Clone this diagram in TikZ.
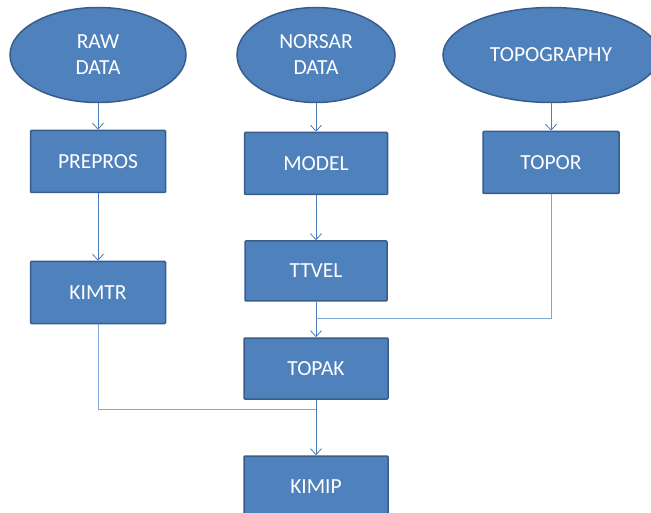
\documentclass[tikz,border=0pt]{standalone}
\usepackage{fontspec}
\setmainfont{Carlito}
\usetikzlibrary{arrows.meta,shapes.geometric}
\definecolor{boxfill}{HTML}{4F81BD}
\definecolor{boxline}{HTML}{385D8A}
\definecolor{linkline}{HTML}{4A7EBB}
\definecolor{joinline}{HTML}{7EA6D6}
\tikzset{
  base/.style={fill=boxfill, draw=boxline, line width=1.5pt, text=white,
    font=\fontsize{21.5}{26}\selectfont, align=center, inner sep=0pt},
  datasrc/.style={base, ellipse, minimum height=95pt},
  procbox/.style={base, rectangle, rounded corners=1pt, minimum height=62pt},
  link/.style={draw=linkline, line width=0.8pt, -{Straight Barb[length=6pt,width=11pt]}},
  joinlink/.style={draw=joinline, line width=1pt},
}
\begin{document}
\begin{tikzpicture}[x=1pt,y=-1pt]
  \useasboundingbox (0,0) rectangle (651,513);
  \fill[white] (0,0) rectangle (651,513);
  \clip (0,0) rectangle (651,513);

  % data sources
  \node[datasrc, minimum width=176pt] (raw) at (98,55) {RAW\\DATA};
  \node[datasrc, minimum width=158pt] (norsar) at (316,55) {NORSAR\\DATA};
  \node[datasrc, minimum width=216pt] (topo) at (551,55) {TOPOGRAPHY};

  % processing steps
  \node[procbox, minimum width=135pt] (prepros) at (98,161.5) {PREPROS};
  \node[procbox, minimum width=143pt] (model) at (316,163.5) {MODEL};
  \node[procbox, minimum width=136pt] (topor) at (551,162.5) {TOPOR};
  \node[procbox, minimum width=135pt] (kimtr) at (98,292.5) {KIMTR};
  \node[procbox, minimum width=142pt, minimum height=60pt] (ttvel) at (316,271) {TTVEL};
  \node[procbox, minimum width=144pt, minimum height=61pt] (topak) at (316,368.5) {TOPAK};
  \node[procbox, minimum width=144pt, minimum height=61pt] (kimip) at (316,486.5) {KIMIP};

  % junction points on the main column
  \coordinate (joinA) at (316,318);
  \coordinate (joinB) at (316,409);

  % flow
  \draw[link] (raw) -- (prepros);
  \draw[link] (norsar) -- (model);
  \draw[link] (topo) -- (topor);
  \draw[link] (prepros) -- (kimtr);
  \draw[link] (model) -- (ttvel);
  \draw[link] (ttvel) -- (topak);
  \draw[link] (topak) -- (kimip);
  \draw[joinlink] (topor.south) |- (joinA);
  \draw[joinlink] (kimtr.south) |- (joinB);
\end{tikzpicture}
\end{document}
